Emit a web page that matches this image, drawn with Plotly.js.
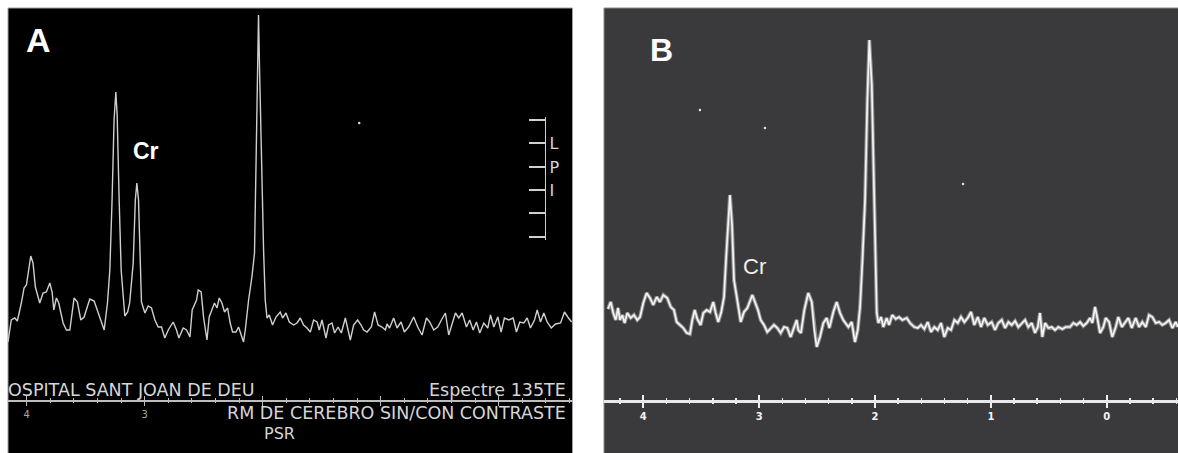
<!DOCTYPE html>
<html><head><meta charset="utf-8">
<script src="https://cdn.plot.ly/plotly-3.0.1.min.js"></script>
<style>html,body{margin:0;padding:0;background:#fff;}#chart{width:1178px;height:453px;}</style>
</head><body><div id="chart"></div>
<script>
// Panel A spectrum (chemical shift in ppm, intensity in arbitrary units)
const ppmA = [4.159,4.131,4.102,4.080,4.046,4.023,4.003,3.983,3.966,3.947,
3.927,3.890,3.862,3.834,3.805,3.785,3.771,3.749,3.729,3.692,
3.664,3.635,3.599,3.571,3.542,3.514,3.466,3.429,3.395,3.367,
3.344,3.316,3.296,3.277,3.260,3.245,3.234,3.217,3.200,3.169,
3.145,3.128,3.098,3.080,3.067,3.053,3.039,3.028,2.999,2.971,
2.943,2.914,2.886,2.858,2.830,2.801,2.759,2.731,2.711,2.674,
2.646,2.617,2.598,2.561,2.547,2.522,2.502,2.473,2.454,2.431,
2.409,2.388,2.369,2.346,2.324,2.298,2.276,2.256,2.227,2.205,
2.182,2.163,2.148,2.120,2.092,2.070,2.055,2.042,2.036,2.027,
2.013,1.993,1.979,1.964,1.945,1.917,1.888,1.852,1.832,1.803,
1.775,1.739,1.710,1.682,1.654,1.625,1.597,1.569,1.540,1.521,
1.498,1.464,1.442,1.413,1.391,1.362,1.334,1.300,1.277,1.258,
1.230,1.196,1.167,1.145,1.116,1.080,1.052,1.023,0.989,0.961,
0.947,0.925,0.891,0.862,0.828,0.800,0.764,0.721,0.687,0.650,
0.613,0.585,0.551,0.517,0.486,0.452,0.424,0.395,0.367,0.339,
0.310,0.274,0.246,0.217,0.189,0.161,0.127,0.093,0.070,0.042,
0.008,-0.020,-0.048,-0.085,-0.122,-0.150,-0.178,-0.212,-0.241,-0.269,
-0.303,-0.326,-0.354,-0.382,-0.410,-0.445,-0.481,-0.524,-0.557,-0.585,
-0.617];
const intA = [58,80,82,79,97,112,115,130,144,137,
113,97,107,108,117,108,90,102,97,77,
70,70,102,98,80,83,101,99,87,77,
70,97,130,200,280,308,285,200,130,84,
88,97,137,200,217,200,150,98,87,94,
92,80,73,73,62,70,78,70,62,72,
70,63,90,100,110,108,83,60,83,90,
97,92,102,97,88,92,77,68,68,73,
65,58,70,100,123,147,250,340,385,330,
250,150,100,82,85,75,83,88,82,87,
78,75,77,82,75,72,68,80,78,70,
80,62,75,77,67,73,67,82,70,60,
75,80,75,70,68,73,88,75,73,70,
76,72,82,72,78,68,73,83,73,65,
82,78,70,73,80,87,65,77,87,82,
87,73,80,70,78,67,77,72,85,73,
83,68,82,80,82,68,78,77,82,72,
80,90,78,87,78,72,76,77,88,83,
78];

// Panel B spectrum
const ppmB = [4.305,4.281,4.259,4.238,4.218,4.201,4.181,4.161,4.138,4.109,
4.080,4.052,4.028,4.000,3.971,3.942,3.914,3.884,3.856,3.827,
3.793,3.763,3.735,3.712,3.683,3.655,3.625,3.597,3.577,3.556,
3.534,3.505,3.482,3.453,3.424,3.396,3.375,3.353,3.327,3.303,
3.286,3.269,3.252,3.234,3.217,3.189,3.159,3.131,3.102,3.059,
3.030,3.010,2.987,2.958,2.930,2.900,2.872,2.843,2.814,2.785,
2.757,2.728,2.699,2.676,2.662,2.639,2.610,2.576,2.546,2.524,
2.503,2.475,2.446,2.417,2.394,2.360,2.331,2.302,2.274,2.230,
2.201,2.173,2.149,2.129,2.108,2.086,2.066,2.049,2.028,2.015,
2.000,1.985,1.971,1.948,1.928,1.899,1.879,1.851,1.821,1.793,
1.764,1.726,1.698,1.661,1.631,1.603,1.574,1.545,1.517,1.488,
1.459,1.430,1.402,1.372,1.344,1.315,1.286,1.258,1.229,1.200,
1.171,1.143,1.113,1.085,1.057,1.027,0.993,0.964,0.936,0.906,
0.878,0.849,0.820,0.791,0.763,0.734,0.705,0.677,0.647,0.619,
0.595,0.576,0.556,0.532,0.504,0.475,0.446,0.418,0.383,0.354,
0.317,0.288,0.259,0.230,0.202,0.172,0.144,0.124,0.101,0.078,
0.058,0.029,0.009,-0.020,-0.048,-0.078,-0.100,-0.130,-0.158,-0.187,
-0.216,-0.250,-0.279,-0.307,-0.337,-0.365,-0.394,-0.423,-0.452,-0.480,
-0.509,-0.538,-0.566,-0.596,-0.613];
const intB = [91,98,87,80,92,80,85,77,87,82,
85,80,83,97,107,102,95,103,98,105,
102,93,90,78,75,72,67,66,80,90,
81,75,87,90,88,98,87,78,88,103,
140,180,205,175,120,100,78,88,92,105,
97,90,80,75,68,72,75,72,67,73,
72,63,72,80,70,67,90,107,98,70,
53,63,77,82,72,88,98,87,80,73,
78,58,70,93,140,200,300,360,315,240,
160,87,77,83,73,82,75,85,81,83,
80,82,77,73,72,75,71,78,68,73,
70,77,63,72,70,80,77,83,78,82,
88,75,83,73,82,75,78,70,77,80,
72,78,75,79,73,77,80,73,77,67,
73,87,63,77,72,73,70,73,71,73,
73,77,75,78,74,77,82,77,93,80,
67,73,82,78,63,73,83,73,77,82,
72,82,73,78,73,85,83,77,78,75,
77,80,72,78,73];

// isolated artifact dots
const dotPpmA = [1.182];
const dotIntA = [277];
const dotPpmB = [3.511, 2.950, 1.240];
const dotIntB = [290, 272, 216];

// axis ticks
const tickVals = [4, 3, 2, 1, 0];
const tickTextA = ['4', '3', '', '', ''];
const tickTextB = ['4', '3', '2', '1', '0'];
// vertical scale bar (panel A)
const scaleVals = [163, 187, 210, 233, 257, 280];
const scaleText = [' ', ' ', 'I', 'P', 'L', ' '];

const W = 1178, H = 453;
const px = v => v / W;
const py = v => (H - v) / H;

const rangeA = [4.159, -0.625];
const rangeB = [4.339, -0.615];
const yDom = [py(400), py(8)];

const traces = [
  {x: ppmA, y: intA, xaxis: 'x', yaxis: 'y', mode: 'lines', line: {color: '#cfcfcf', width: 1.4}, hoverinfo: 'skip'},
  {x: dotPpmA, y: dotIntA, xaxis: 'x', yaxis: 'y', mode: 'markers', marker: {color: '#dddddd', size: 2.5}},
  {x: ppmB, y: intB, xaxis: 'x2', yaxis: 'y2', mode: 'lines', line: {color: '#8c8c8c', width: 3.8}},
  {x: ppmB, y: intB, xaxis: 'x2', yaxis: 'y2', mode: 'lines', line: {color: '#f4f4f4', width: 1.7}},
  {x: dotPpmB, y: dotIntB, xaxis: 'x2', yaxis: 'y2', mode: 'markers', marker: {color: '#e6e6e6', size: 2.5}},
  {x: [], y: [], xaxis: 'x3', yaxis: 'y', mode: 'lines'},
  {x: [], y: [], xaxis: 'x4', yaxis: 'y2', mode: 'lines'},
  {x: [], y: [], xaxis: 'x', yaxis: 'y3', mode: 'lines'}
];

const baseX = {showgrid: false, zeroline: false, fixedrange: true};
const txt = {family: 'DejaVu Sans, Verdana, sans-serif', size: 17.5, color: '#d6d6d6'};

const layout = {
  width: W, height: H,
  margin: {l: 0, r: 0, t: 0, b: 0, pad: 0},
  paper_bgcolor: '#ffffff',
  plot_bgcolor: 'rgba(0,0,0,0)',
  showlegend: false,
  xaxis: Object.assign({}, baseX, {
    domain: [px(8), px(572.5)], range: rangeA, anchor: 'y',
    showline: true, linecolor: '#bdbdbd', linewidth: 1.5,
    ticks: 'outside', tickvals: tickVals, ticktext: tickTextA, ticklen: 4, tickwidth: 1.2, tickcolor: '#bdbdbd',
    minor: {dtick: 0.2, tick0: 0, ticks: 'outside', ticklen: 1.5, tickcolor: '#bdbdbd', tickwidth: 1},
    tickfont: {family: 'DejaVu Sans, sans-serif', size: 10, color: '#a8a8a8'}
  }),
  xaxis3: Object.assign({}, baseX, {
    overlaying: 'x', anchor: 'y', range: rangeA,
    ticks: 'inside', tickvals: tickVals, ticklen: 4, tickwidth: 1.2, tickcolor: '#bdbdbd',
    minor: {dtick: 0.2, tick0: 0, ticks: 'inside', ticklen: 2, tickcolor: '#bdbdbd', tickwidth: 1},
    showticklabels: false, showline: false
  }),
  yaxis: {domain: yDom, range: [0, 392], visible: false, anchor: 'x', fixedrange: true},
  xaxis2: Object.assign({}, baseX, {
    domain: [px(604), 1], range: rangeB, anchor: 'y2',
    showline: true, linecolor: '#e8e8e8', linewidth: 2.5,
    ticks: 'outside', tickvals: tickVals, ticktext: tickTextB, ticklen: 5, tickwidth: 2, tickcolor: '#eeeeee',
    minor: {dtick: 0.2, tick0: 0, ticks: 'outside', ticklen: 1.5, tickcolor: '#eeeeee', tickwidth: 1.5},
    tickfont: {family: 'DejaVu Sans, sans-serif', size: 10, color: '#f2f2f2', weight: 'bold'}
  }),
  xaxis4: Object.assign({}, baseX, {
    overlaying: 'x2', anchor: 'y2', range: rangeB,
    ticks: 'inside', tickvals: tickVals, ticklen: 5, tickwidth: 2, tickcolor: '#eeeeee',
    minor: {dtick: 0.2, tick0: 0, ticks: 'inside', ticklen: 2, tickcolor: '#eeeeee', tickwidth: 1.5},
    showticklabels: false, showline: false
  }),
  yaxis2: {domain: yDom, range: [0, 392], visible: false, anchor: 'x2', fixedrange: true},
  yaxis3: {
    domain: [py(240), py(117)], range: [160, 283], anchor: 'free', position: px(545), side: 'right',
    showline: true, linecolor: '#d0d0d0', linewidth: 1.3,
    ticks: 'inside', tickvals: scaleVals, ticktext: scaleText, ticklen: 16, tickwidth: 1.3, tickcolor: '#d0d0d0',
    tickfont: {family: 'DejaVu Sans, sans-serif', size: 16, color: '#d8d8d8'},
    showgrid: false, zeroline: false, fixedrange: true
  },
  shapes: [
    {type: 'rect', xref: 'paper', yref: 'paper', x0: px(8), x1: px(572.5), y0: -0.02, y1: py(8),
     fillcolor: '#000000', line: {color: '#a0a0a0', width: 1}, layer: 'below'},
    {type: 'rect', xref: 'paper', yref: 'paper', x0: px(604), x1: 1.02, y0: -0.02, y1: py(8),
     fillcolor: '#3a3a3c', line: {color: '#8a8a8a', width: 1}, layer: 'below'}
  ],
  annotations: [
    {text: 'A', xref: 'paper', yref: 'paper', x: px(38.5), y: py(40), showarrow: false, xanchor: 'center', yanchor: 'middle',
     font: {family: 'Liberation Sans, Arial, sans-serif', size: 34, color: '#ffffff', weight: 'bold'}},
    {text: 'Cr', xref: 'paper', yref: 'paper', x: px(146), y: py(151), showarrow: false, xanchor: 'center', yanchor: 'middle',
     font: {family: 'Liberation Sans, Arial, sans-serif', size: 23, color: '#ffffff', weight: 'bold'}},
    {text: 'B', xref: 'paper', yref: 'paper', x: px(661), y: py(50), showarrow: false, xanchor: 'center', yanchor: 'middle',
     font: {family: 'Liberation Sans, Arial, sans-serif', size: 32, color: '#ffffff', weight: 'bold'}},
    {text: 'Cr', xref: 'paper', yref: 'paper', x: px(754), y: py(266), showarrow: false, xanchor: 'center', yanchor: 'middle',
     font: {family: 'Liberation Sans, Arial, sans-serif', size: 22, color: '#f0f0f0'}},
    {text: 'OSPITAL SANT JOAN DE DEU', xref: 'paper', yref: 'paper', x: px(6), y: py(390), showarrow: false, xanchor: 'left', yanchor: 'middle', font: txt},
    {text: 'Espectre 135TE', xref: 'paper', yref: 'paper', x: px(568), y: py(390), showarrow: false, xanchor: 'right', yanchor: 'middle', font: txt},
    {text: 'RM DE CEREBRO SIN/CON CONTRASTE', xref: 'paper', yref: 'paper', x: px(568), y: py(413), showarrow: false, xanchor: 'right', yanchor: 'middle', font: txt},
    {text: 'PSR', xref: 'paper', yref: 'paper', x: px(279.5), y: py(433), showarrow: false, xanchor: 'center', yanchor: 'middle',
     font: {family: 'DejaVu Sans, Verdana, sans-serif', size: 16, color: '#d6d6d6'}}
  ]
};

Plotly.newPlot('chart', traces, layout, {staticPlot: true, displayModeBar: false});
</script>
</body></html>
